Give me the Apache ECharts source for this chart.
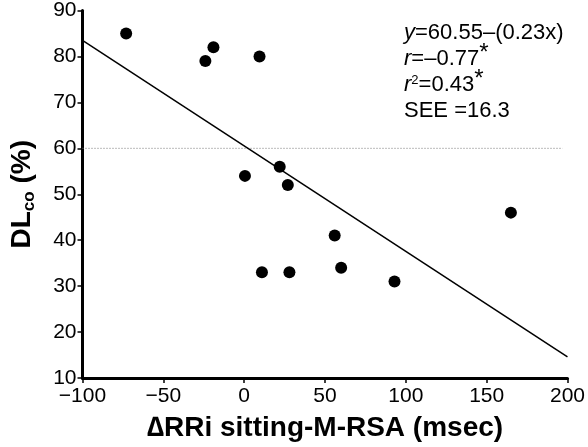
<!DOCTYPE html>
<html>
<head>
<meta charset="utf-8">
<script src="https://cdn.jsdelivr.net/npm/echarts@6/dist/echarts.min.js"></script>
<style>html,body{margin:0;padding:0;background:#fff;}#c{width:588px;height:447px;}</style>
</head>
<body>
<div id="c"></div>
<script>
var xValues = [-73, -24, -19, 9.5, 0.5, 22, 27, 11, 28, 56, 60, 93, 165];
var yValues = [85, 79, 82, 80, 54, 56, 52, 33, 33, 41, 34, 31, 46];
var fitX = [-100, 200];
var fitY = [83.5, 14.6];
var refX = [-100, 197];
var refY = [60, 60];
var xTicks = [-100, -50, 0, 50, 100, 150, 200];
var yTicks = [10, 20, 30, 40, 50, 60, 70, 80, 90];

var FONT = 'Liberation Sans, Arial, sans-serif';
var chart = echarts.init(document.getElementById('c'), null, {renderer: 'canvas'});
var pts = xValues.map(function (x, i) { return [x, yValues[i]]; });
var fit = fitX.map(function (x, i) { return [x, fitY[i]]; });
var ref = refX.map(function (x, i) { return [x, refY[i]]; });

chart.setOption({
  animation: false,
  backgroundColor: '#fff',
  grid: {left: 73, right: 19, top: 9, bottom: 67},
  xAxis: {
    type: 'value', min: xTicks[0], max: xTicks[xTicks.length - 1], interval: 50,
    name: '\u2206RRi sitting-M-RSA (msec)', nameLocation: 'middle', nameGap: 36,
    nameTextStyle: {fontFamily: FONT, fontSize: 28, fontWeight: 'bold', color: '#000'},
    axisLine: {show: true, onZero: false, lineStyle: {color: '#000', width: 3}},
    axisTick: {show: true, length: 5, lineStyle: {color: '#000', width: 1.5}},
    axisLabel: {fontFamily: FONT, fontSize: 21, color: '#000', margin: 8,
      formatter: function (v) { return v < 0 ? '\u2212' + Math.abs(v) : String(v); }},
    splitLine: {show: false}
  },
  yAxis: {
    type: 'value', min: yTicks[0], max: yTicks[yTicks.length - 1], interval: 10,
    name: '{a|DL}{b|co}{a| (%)}', nameLocation: 'middle', nameGap: 45,
    nameTextStyle: {
      fontFamily: FONT, fontSize: 28, fontWeight: 'bold', color: '#000',
      rich: {
        a: {fontFamily: FONT, fontSize: 28, fontWeight: 'bold', color: '#000'},
        b: {fontFamily: FONT, fontSize: 17, fontWeight: 'bold', color: '#000', padding: [14, 0, 0, 0]}
      }
    },
    axisLine: {show: true, onZero: false, lineStyle: {color: '#000', width: 3}},
    axisTick: {show: true, length: 5, lineStyle: {color: '#000', width: 1.5}},
    axisLabel: {fontFamily: FONT, fontSize: 21, color: '#000', margin: 6},
    splitLine: {show: false}
  },
  graphic: [{
    type: 'text', left: 404, top: 20,
    style: {
      text: '{i|y}{n|=60.55\u2013(0.23x)}\n{i|r}{n|=\u20130.77}{s|*}\n{i|r}{p|2}{n|=0.43}{s|*}\n{n|SEE =16.3}',
      fontFamily: FONT, fontSize: 22, fill: '#000', lineHeight: 26,
      rich: {
        i: {fontFamily: FONT, fontSize: 22, fontStyle: 'italic', color: '#000', lineHeight: 26},
        n: {fontFamily: FONT, fontSize: 22, color: '#000', lineHeight: 26},
        p: {fontFamily: FONT, fontSize: 13, color: '#000', padding: [0, 0, 10, 0]},
        s: {fontFamily: FONT, fontSize: 24, color: '#000', padding: [0, 0, 12, 0]}
      }
    }
  }],
  series: [
    {
      type: 'line', data: ref, symbol: 'none', silent: true,
      lineStyle: {color: '#777', width: 1, type: [1, 2]}
    },
    {
      type: 'line', data: fit, symbol: 'none', silent: true,
      lineStyle: {color: '#000', width: 1.5}
    },
    {
      type: 'scatter', data: pts, symbol: 'circle', symbolSize: 12,
      itemStyle: {color: '#000', opacity: 1}
    }
  ]
});
</script>
</body>
</html>
